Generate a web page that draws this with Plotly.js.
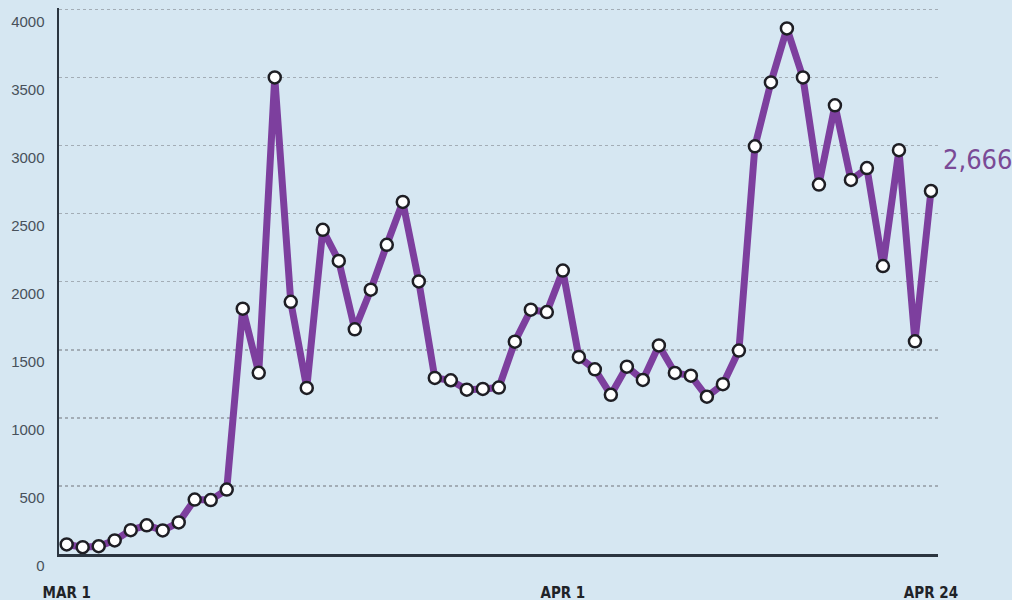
<!DOCTYPE html>
<html>
<head>
<meta charset="utf-8">
<script src="https://cdn.plot.ly/plotly-3.0.1.min.js"></script>
<style>
  html, body { margin: 0; padding: 0; background: #d6e7f2; }
  #chart { width: 1012px; height: 600px; }
</style>
</head>
<body>
<div id="chart"></div>
<script>
// Day index from MAR 1 (0) to APR 24 (54)
const days = Array.from({length: 55}, (_, i) => i);
const values = [70, 50, 57, 100, 175, 211, 173, 232, 400, 396, 473, 1802, 1331, 3500, 1852,
  1220, 2381, 2152, 1650, 1941, 2271, 2586, 2002, 1293, 1276, 1207, 1212, 1222, 1559, 1794,
  1777, 2082, 1447, 1356, 1169, 1376, 1278, 1532, 1330, 1310, 1155, 1247, 1494, 2994, 3463,
  3860, 3500, 2713, 3295, 2747, 2834, 2115, 2966, 1562, 2666];
const xTickVals = [0, 31, 54];
const xTickText = ['MAR 1', 'APR 1', 'APR 24'];
const yTickVals = [0, 500, 1000, 1500, 2000, 2500, 3000, 3500, 4000];
const lastLabel = '2,666';

const trace = {
  x: days,
  y: values,
  type: 'scatter',
  mode: 'lines+markers',
  line: { color: '#7d3f9e', width: 7 },
  marker: { size: 12, color: '#ffffff', line: { color: '#1e1e24', width: 2.5 } },
  hoverinfo: 'skip'
};

const layout = {
  width: 1012,
  height: 600,
  paper_bgcolor: '#d6e7f2',
  plot_bgcolor: '#d6e7f2',
  margin: { l: 59, r: 74, t: 8, b: 46 },
  showlegend: false,
  xaxis: {
    range: [-0.48, 54.44],
    tickvals: xTickVals,
    ticktext: xTickText,
    showgrid: false,
    zeroline: false,
    showline: true,
    linecolor: '#2b3540',
    linewidth: 2.5,
    ticks: '',
    ticklabelstandoff: 23,
    tickfont: { family: '"Liberation Sans Narrow", "DejaVu Sans Condensed", Arial, sans-serif', size: 15, color: '#1f2328', weight: 'bold' }
  },
  yaxis: {
    range: [0, 4010],
    tickvals: yTickVals,
    showgrid: true,
    gridcolor: '#a3adb6',
    gridwidth: 1.5,
    griddash: 'dot',
    zeroline: false,
    showline: true,
    linecolor: '#2b3540',
    linewidth: 2.5,
    ticks: '',
    ticklabelshift: 12,
    ticklabelstandoff: 9,
    tickfont: { family: '"Liberation Sans", Arial, sans-serif', size: 15, color: '#48515b' }
  },
  annotations: [{
    x: 54, y: values[54],
    xref: 'x', yref: 'y',
    text: lastLabel,
    showarrow: false,
    xanchor: 'left',
    yanchor: 'middle',
    xshift: 10,
    yshift: 32,
    font: { family: '"Liberation Sans Narrow", "DejaVu Sans Condensed", Arial, sans-serif', size: 27, color: '#7a4a96' }
  }]
};

Plotly.newPlot('chart', [trace], layout, { displayModeBar: false, staticPlot: true });
</script>
</body>
</html>
